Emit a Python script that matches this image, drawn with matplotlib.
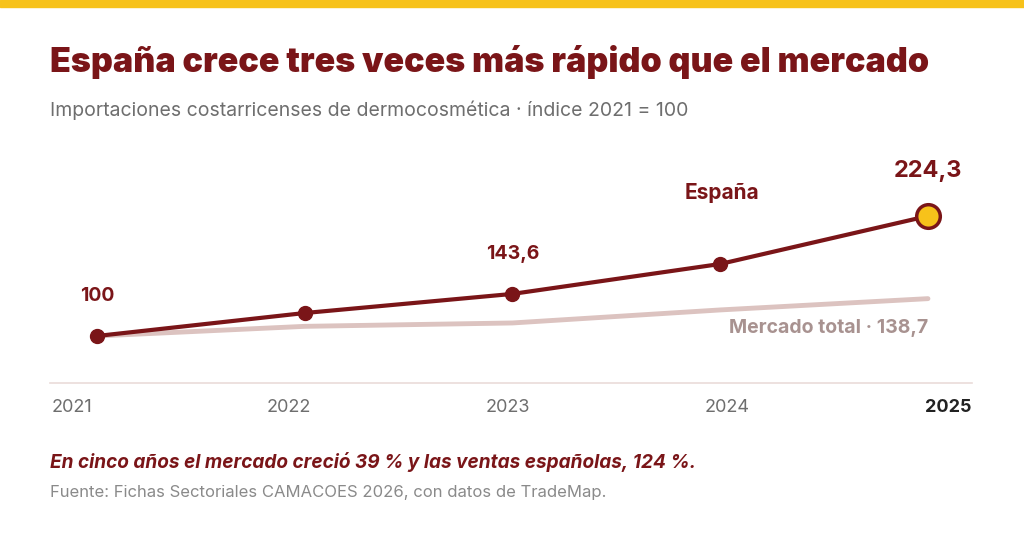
import matplotlib.pyplot as plt
from matplotlib.patches import Rectangle

years = [2021, 2022, 2023, 2024, 2025]
espana = [100, 123.8, 143.6, 174.6, 224.3]
mercado = [100, 110, 113.5, 127, 138.7]
tick_labels = ['2021', '2022', '2023', '2024', '2025']

RED = '#7A1518'
PINK = '#DCC3C0'
GOLD = '#F7C21A'
GRAY = '#6E6E6E'

plt.rcParams['font.family'] = ['Inter', 'DejaVu Sans']

fig = plt.figure(figsize=(10.24, 5.38), dpi=100)
W, H = 1024, 538

fig.patches.append(Rectangle((0, 1 - 7 / H), 1, 7 / H, transform=fig.transFigure,
                             color=GOLD, zorder=10))

fig.text(50 / W, 1 - 62 / H, 'España crece tres veces más rápido que el mercado',
         fontsize=24.5, fontweight='black', color=RED, va='center')
fig.text(50 / W, 1 - 110 / H, 'Importaciones costarricenses de dermocosmética · índice 2021 = 100',
         fontsize=14, color=GRAY, va='center')

ax = fig.add_axes([50 / W, (H - 383) / H, 922 / W, 233 / H])
ax.set_xlim(2020.774, 2025.212)
ax.set_ylim(51.3, 292.7)
for s in ['top', 'right', 'left']:
    ax.spines[s].set_visible(False)
ax.spines['bottom'].set_color('#EADCD9')
ax.spines['bottom'].set_linewidth(1.2)
ax.set_xticks([])
ax.set_yticks([])

ax.plot(years, mercado, color=PINK, lw=3.5, solid_capstyle='round', zorder=1)
ax.plot(years, espana, color=RED, lw=3, zorder=2)
ax.plot(years[:-1], espana[:-1], 'o', color=RED, ms=10, zorder=3)
ax.plot(years[-1], espana[-1], 'o', color=GOLD, ms=17, mec=RED, mew=2.5, zorder=4)

ax.annotate('100', (years[0], espana[0]), xytext=(0, 25), textcoords='offset points',
            ha='center', fontsize=14, fontweight='bold', color=RED)
ax.annotate('143,6', (years[2], espana[2]), xytext=(0, 25), textcoords='offset points',
            ha='center', fontsize=14, fontweight='bold', color=RED)
ax.annotate('224,3', (years[4], espana[4]), xytext=(0, 28), textcoords='offset points',
            ha='center', fontsize=17, fontweight='bold', color=RED)
ax.text(2024.19, 248, 'España', ha='right', va='center', fontsize=15,
        fontweight='bold', color=RED)
ax.text(years[4], mercado[4] - 30, 'Mercado total · 138,7', ha='right', va='center',
        fontsize=14, fontweight='bold', color='#A89290')

pos = [52, 289, 508, 727, 972]
for i, (p, lab) in enumerate(zip(pos, tick_labels)):
    ha = 'left' if i == 0 else ('right' if i == 4 else 'center')
    fig.text(p / W, 1 - 408 / H, lab, ha=ha, va='center', fontsize=13,
             color='#222222' if i == 4 else GRAY, fontweight='bold' if i == 4 else 'normal')

fig.text(50 / W, 1 - 462 / H,
         'En cinco años el mercado creció 39 % y las ventas españolas, 124 %.',
         fontsize=13.7, fontweight='bold', style='italic', color=RED, va='center')
fig.text(50 / W, 1 - 492 / H,
         'Fuente: Fichas Sectoriales CAMACOES 2026, con datos de TradeMap.',
         fontsize=12, color='#8A8A8A', va='center')

fig.savefig('out.png', dpi=100)
